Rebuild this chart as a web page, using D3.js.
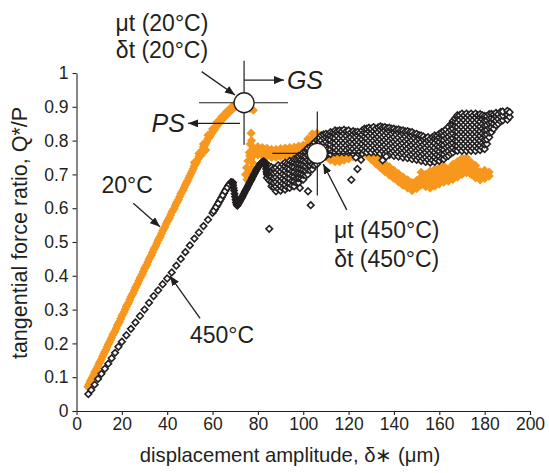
<!DOCTYPE html>
<html><head><meta charset="utf-8">
<script src="https://cdn.jsdelivr.net/npm/d3@7"></script>
<style>
body{margin:0;background:#fff}
text{font-family:"Liberation Sans",Arial,Helvetica,sans-serif;fill:#231f20}
</style>
</head><body>
<svg id="chart" width="549" height="473"></svg>
<script>
// ---------- data ----------
const xTicks = [0,20,40,60,80,100,120,140,160,180,200];
const yTicks = [0,0.1,0.2,0.3,0.4,0.5,0.6,0.7,0.8,0.9,1];

// 20°C series (orange, filled diamonds)
const orangeRise = [[5,0.072],[6,0.087],[7,0.099],[8,0.114],[9,0.126],[10,0.141],[11,0.153],[12,0.169],[13,0.181],[14,0.197],[15,0.21],[16,0.225],[17,0.237],[18,0.253],[19,0.265],[20,0.281],[21,0.293],[22,0.309],[23,0.321],[24,0.337],[25,0.349],[26,0.365],[27,0.377],[28,0.393],[29,0.405],[30,0.421],[31,0.433],[32,0.449],[33,0.461],[34,0.477],[35,0.489],[36,0.505],[37,0.517],[38,0.533],[39,0.545],[40,0.561],[41,0.572],[42,0.588],[43,0.599],[44,0.615],[45,0.626],[46,0.642],[47,0.654],[48,0.669],[49,0.681],[50,0.696],[51,0.709],[52,0.725],[53,0.737],[54,0.753],[55,0.765],[56,0.781],[57,0.791],[58,0.806],[59,0.814],[60,0.826],[61,0.834],[62,0.846],[63,0.852],[64,0.862],[65,0.867],[66,0.877],[67,0.881],[68,0.89],[69,0.894],[70,0.902],[71,0.904],[72,0.909],[73,0.91],
  [52,0.735],[54,0.762],[55,0.757],[56,0.79],[57,0.772],[58,0.816],[60,0.834],[62,0.855],[64,0.87],[66,0.884],[68,0.897],[70,0.909],[75,0.9],[76.5,0.895],[78,0.89]];
const orangeRiseHalf = [[5.5,0.079],[6.5,0.093],[7.5,0.106],[8.5,0.12],[9.5,0.133],[10.5,0.147],[11.5,0.161],[12.5,0.175],[13.5,0.189],[14.5,0.203],[15.5,0.217],[16.5,0.231],[17.5,0.245],[18.5,0.259],[19.5,0.273],[20.5,0.287],[21.5,0.301],[22.5,0.315],[23.5,0.329],[24.5,0.343],[25.5,0.357],[26.5,0.371],[27.5,0.385],[28.5,0.399],[29.5,0.413],[30.5,0.427],[31.5,0.441],[32.5,0.455],[33.5,0.469],[34.5,0.483],[35.5,0.497],[36.5,0.511],[37.5,0.525],[38.5,0.539],[39.5,0.553],[40.5,0.566],[41.5,0.58],[42.5,0.593],[43.5,0.607],[44.5,0.62],[45.5,0.634],[46.5,0.648],[47.5,0.661],[48.5,0.675],[49.5,0.689],[50.5,0.703],[51.5,0.717],[52.5,0.731],[53.5,0.745],[54.5,0.759],[55.5,0.772],[56.5,0.786],[57.5,0.798],[58.5,0.81],[59.5,0.82],[60.5,0.83],[61.5,0.84],[62.5,0.85],[63.5,0.857],[64.5,0.865],[65.5,0.872],[66.5,0.879],[67.5,0.886],[68.5,0.892],[69.5,0.898],[70.5,0.903],[71.5,0.907],[72.5,0.91]];
const orangeDrop = [[77,0.822],[77.2,0.8],[76.6,0.79],[76.2,0.765],[76.8,0.745],[75.6,0.74],[75,0.72],[75.8,0.705],[74.6,0.7],[75.2,0.685],[77.2,0.718],[77.6,0.735],[76.4,0.755]];
const orangeBand = [[78,0.755,0.767,0.779],[80,0.758,0.77,0.782],[82,0.755,0.767,0.779],[84,0.753,0.765,0.777],[86,0.75,0.762,0.774],[88,0.75,0.762,0.774],[90,0.752,0.764,0.776],[92,0.754,0.766,0.778],[94,0.755,0.767,0.779],[96,0.757,0.769,0.781],[98,0.76,0.772,0.784],[100,0.763,0.775,0.787],[102,0.767,0.779,0.791,0.805],[104,0.768,0.78,0.792,0.806,0.82],[106,0.768,0.78,0.792,0.806,0.822],[108,0.765,0.777,0.789,0.803,0.815],[110,0.752,0.764,0.776,0.79],[112,0.742,0.754,0.766],[114,0.738,0.75,0.762],[116,0.738,0.75,0.762],[118,0.742,0.754,0.766],[120,0.746,0.758,0.77],[122,0.752,0.764,0.776],[124,0.76,0.772,0.784,0.795],[126,0.765,0.777,0.789],[128,0.757,0.769,0.781],[130,0.744,0.756,0.768],[132,0.732,0.744,0.756],[134,0.72,0.732,0.744],[136,0.708,0.72,0.732],[138,0.698,0.71,0.722],[140,0.688,0.70,0.712],[142,0.678,0.69,0.702],[144,0.668,0.68,0.692],[146,0.66,0.672,0.684],[148,0.652,0.664,0.676],[150,0.658,0.67,0.682],[152,0.668,0.68,0.692,0.706],[154,0.664,0.676,0.688,0.70],[156,0.66,0.672,0.684,0.696,0.71],[158,0.665,0.677,0.689,0.701,0.715],[160,0.672,0.684,0.696,0.708,0.72],[162,0.677,0.689,0.701,0.713,0.725],[164,0.68,0.692,0.704,0.716],[166,0.685,0.697,0.709,0.721,0.73],[168,0.692,0.704,0.716,0.728,0.738],[170,0.70,0.712,0.724,0.736,0.748],[172,0.705,0.717,0.729,0.741,0.75],[174,0.70,0.712,0.724,0.736],[176,0.69,0.702,0.714,0.726],[178,0.684,0.696,0.708],[180,0.688,0.70,0.712],[182,0.695,0.707]];

// 450°C series (open black diamonds)
const blackRise = [[5.2,0.05],[6.5,0.062],[8,0.078],[9.5,0.095],[11,0.11],[12.5,0.125],[14,0.14],[15.5,0.156],[17,0.172],[18.5,0.19],[20,0.205],[22,0.224],[24,0.243],[26,0.262],[28,0.281],[30,0.30],[32,0.32],[34,0.34],[36,0.357],[38,0.375],[40,0.392],[42,0.41],[44,0.43],[46,0.45],[48,0.47],[50,0.49],[52,0.51],[54,0.528],[56,0.547],[58,0.566],[60,0.586],[61,0.597],[62,0.608],[63,0.62],[64,0.632],[65,0.644],[66,0.656],[67,0.667],[68,0.675],[69,0.676],
  [60.5,0.592],[61.5,0.603],[62.5,0.614],[63.5,0.626],[64.5,0.638],[65.5,0.65],[66.5,0.661],[67.5,0.671],[68.2,0.677]];
// dense stretch that prints as a solid black stroke
const blackKink = [[68.5,0.676],[68.8,0.674],[69.1,0.668],[69.3,0.66],[69.5,0.652],[69.7,0.643],[69.9,0.634],[70.1,0.625],[70.3,0.617],[70.6,0.61],[70.9,0.607],[71.2,0.61],[71.5,0.614],[71.8,0.618],[72.1,0.621],[72.4,0.625],[72.7,0.629],[73,0.632],[73.3,0.636],[73.6,0.64],[73.9,0.644],[74.2,0.648],[74.5,0.652],[74.8,0.655],[75.1,0.659],[75.4,0.663],[75.7,0.667],[76,0.671],[76.3,0.675],[76.6,0.678],[76.9,0.682],[77.2,0.686],[77.5,0.69],[77.8,0.694],[78.1,0.698],[78.4,0.702],[78.7,0.705],[79,0.709],[79.3,0.713],[79.6,0.716],[79.9,0.72],[80.2,0.723],[80.5,0.726],[80.8,0.729],[81.1,0.731],[81.4,0.733],[81.7,0.735],[82,0.737],[82.3,0.738],[82.6,0.739],[82.9,0.737],[83.2,0.731],[83.4,0.724],[83.6,0.716],[83.8,0.708],[84,0.70]];
const blackCloud = [
 [84,0.69,0.704,0.718,0.73],[85,0.682,0.696,0.71,0.724],[86,0.665,0.679,0.693,0.707,0.721],[87,0.662,0.676,0.69,0.704,0.718],
 [88,0.65,0.664,0.678,0.692,0.706,0.72],[89,0.657,0.671,0.685,0.699,0.713,0.727],[90,0.652,0.666,0.68,0.694,0.708,0.722],[91,0.659,0.673,0.687,0.701,0.715,0.729],
 [92,0.655,0.669,0.683,0.697,0.711,0.725,0.735],[93,0.662,0.676,0.69,0.704,0.718,0.732],[94,0.66,0.674,0.688,0.702,0.716,0.73,0.74],[95,0.667,0.681,0.695,0.709,0.723,0.737],
 [96,0.665,0.679,0.693,0.707,0.721,0.735,0.745],[97,0.675,0.689,0.703,0.717,0.731,0.745],[98,0.675,0.689,0.703,0.717,0.731,0.745,0.755],[99,0.687,0.701,0.715,0.729,0.743,0.757],
 [100,0.685,0.699,0.713,0.727,0.741,0.755,0.765],[101,0.697,0.711,0.725,0.739,0.753,0.767],[102,0.70,0.714,0.728,0.742,0.756,0.77,0.778],[103,0.712,0.726,0.74,0.754,0.768,0.782],
 [104,0.715,0.729,0.743,0.757,0.771,0.785],[105,0.727,0.741,0.755,0.769,0.783,0.795],[106,0.73,0.744,0.758,0.772,0.786,0.80],[107,0.742,0.756,0.77,0.784,0.798,0.808],
 [108,0.745,0.759,0.773,0.787,0.801,0.815],[109,0.752,0.766,0.78,0.794,0.808,0.818],[110,0.755,0.769,0.783,0.797,0.811,0.82],[111,0.762,0.776,0.79,0.804,0.818],
 [112,0.76,0.774,0.788,0.802,0.816,0.825],[113,0.767,0.781,0.795,0.809,0.823],[114,0.765,0.779,0.793,0.807,0.821,0.83],[115,0.772,0.786,0.80,0.814,0.828],
 [116,0.765,0.779,0.793,0.807,0.821,0.83],[117,0.772,0.786,0.80,0.814,0.828],[118,0.765,0.779,0.793,0.807,0.821,0.832],[119,0.772,0.786,0.80,0.814,0.828],
 [120,0.765,0.779,0.793,0.807,0.821,0.83],[121,0.768,0.782,0.796,0.81,0.824],[122,0.762,0.776,0.79,0.804,0.818,0.828],[123,0.769,0.783,0.797,0.811,0.825],
 [124,0.76,0.774,0.788,0.802,0.816,0.826],[125,0.767,0.781,0.795,0.809,0.823],[126,0.762,0.776,0.79,0.804,0.818,0.83],[127,0.769,0.783,0.797,0.811,0.825,0.835],
 [128,0.765,0.779,0.793,0.807,0.821,0.835],[129,0.772,0.786,0.80,0.814,0.828,0.838],[130,0.765,0.779,0.793,0.807,0.821,0.835],[131,0.772,0.786,0.80,0.814,0.828,0.84],
 [132,0.765,0.779,0.793,0.807,0.821,0.835],[133,0.769,0.783,0.797,0.811,0.825,0.839],[134,0.762,0.776,0.79,0.804,0.818,0.832,0.842],[135,0.769,0.783,0.797,0.811,0.825,0.839],
 [136,0.76,0.774,0.788,0.802,0.816,0.83,0.84],[137,0.767,0.781,0.795,0.809,0.823,0.837],[138,0.758,0.772,0.786,0.80,0.814,0.828,0.838],[139,0.765,0.779,0.793,0.807,0.821,0.835],
 [140,0.755,0.769,0.783,0.797,0.811,0.825,0.835],[141,0.762,0.776,0.79,0.804,0.818,0.832],[142,0.753,0.767,0.781,0.795,0.809,0.823,0.833],[143,0.76,0.774,0.788,0.802,0.816,0.83],
 [144,0.75,0.764,0.778,0.792,0.806,0.82,0.83],[145,0.757,0.771,0.785,0.799,0.813,0.827],[146,0.748,0.762,0.776,0.79,0.804,0.818,0.828],[147,0.755,0.769,0.783,0.797,0.811,0.825],
 [148,0.745,0.759,0.773,0.787,0.801,0.815,0.825],[149,0.752,0.766,0.78,0.794,0.808,0.82],[150,0.743,0.757,0.771,0.785,0.799,0.813,0.82],[151,0.75,0.764,0.778,0.792,0.806,0.816],
 [152,0.74,0.754,0.768,0.782,0.796,0.81,0.815],[153,0.747,0.761,0.775,0.789,0.803,0.812],[154,0.737,0.751,0.765,0.779,0.793,0.807],[155,0.744,0.758,0.772,0.786,0.80,0.81],
 [156,0.735,0.749,0.763,0.777,0.791,0.805],[157,0.742,0.756,0.77,0.784,0.798,0.81],[158,0.737,0.751,0.765,0.779,0.793,0.807,0.815],[159,0.744,0.758,0.772,0.786,0.80,0.814],
 [160,0.74,0.754,0.768,0.782,0.796,0.81,0.82],[161,0.747,0.761,0.775,0.789,0.803,0.817,0.825],[162,0.745,0.759,0.773,0.787,0.801,0.815,0.828],[163,0.752,0.766,0.78,0.794,0.808,0.822,0.833],
 [164,0.755,0.769,0.783,0.797,0.811,0.825,0.84],[165,0.762,0.776,0.79,0.804,0.818,0.832,0.848],[166,0.765,0.779,0.793,0.807,0.821,0.835,0.849,0.858],[167,0.772,0.786,0.80,0.814,0.828,0.842,0.856,0.866],
 [168,0.77,0.784,0.798,0.812,0.826,0.84,0.854,0.868,0.875],[169,0.777,0.791,0.805,0.819,0.833,0.847,0.861,0.875],[170,0.77,0.784,0.798,0.812,0.826,0.84,0.854,0.868,0.88],[171,0.777,0.791,0.805,0.819,0.833,0.847,0.861,0.875],
 [172,0.77,0.784,0.798,0.812,0.826,0.84,0.854,0.868,0.88],[173,0.777,0.791,0.805,0.819,0.833,0.847,0.861,0.875],[174,0.77,0.784,0.798,0.812,0.826,0.84,0.854,0.868,0.88],[175,0.777,0.791,0.805,0.819,0.833,0.847,0.861,0.875],
 [176,0.77,0.784,0.798,0.812,0.826,0.84,0.854,0.868,0.88],[177,0.777,0.791,0.805,0.819,0.833,0.847,0.861,0.875],[178,0.772,0.786,0.80,0.814,0.828,0.842,0.856,0.87,0.878],[179,0.779,0.793,0.807,0.821,0.835,0.849,0.863,0.875],
 [180,0.775,0.789,0.803,0.817,0.831,0.845,0.859,0.873],[181,0.79,0.804,0.818,0.832,0.846,0.86,0.872],[182,0.81,0.824,0.838,0.852,0.866,0.878],[183,0.825,0.839,0.853,0.867,0.879],
 [184,0.835,0.849,0.863,0.877],[185,0.845,0.859,0.873,0.882],[186,0.85,0.864,0.878],[187,0.857,0.871,0.885],[188,0.86,0.874,0.886],[190,0.862,0.876,0.888],[191,0.87,0.884]];
const blackOutliers = [[85,0.539],[98.5,0.66],[102.1,0.65],[103.3,0.609],[121.2,0.684],[123.9,0.716],[123.2,0.75],[125.5,0.743],[135,0.742],[136.6,0.753]];

// annotation points (data units)
const peak20 = [73.9, 0.912];
const peak450 = [106.2, 0.762];

// ---------- drawing ----------
const svg = d3.select("#chart");
const x = d3.scaleLinear().domain([0,200]).range([76.5,530]);
const y = d3.scaleLinear().domain([0,1]).range([411,73]);
const ink = "#231f20", orange = "#f7971d";

const diamond = r => `M0,${-r}L${r},0L0,${r}L${-r},0Z`;
const flat = rows => rows.flatMap(r => r.slice(1).map(v => [r[0], v]));

// axes
const gx = svg.append("g").attr("transform", `translate(0,${y(0)})`)
  .call(d3.axisBottom(x).tickValues(xTicks).tickFormat(d3.format("d")).tickSize(4).tickSizeOuter(0).tickPadding(3));
const gy = svg.append("g").attr("transform", `translate(${x(0)},0)`)
  .call(d3.axisLeft(y).tickValues(yTicks).tickFormat(d => d === 0 || d === 1 ? String(d) : d3.format(".1f")(d)).tickSize(4).tickSizeOuter(0).tickPadding(4));
[gx, gy].forEach(g => {
  g.selectAll("path,line").attr("stroke", ink).attr("stroke-width", 1.1);
  g.selectAll("text").attr("font-size", 17.5).attr("fill", ink).attr("font-family", '"Liberation Sans",Arial,sans-serif');
});

// orange series
const orangePts = orangeRise.concat(orangeRiseHalf, orangeDrop, flat(orangeBand));
svg.append("g").selectAll("path").data(orangePts).join("path")
  .attr("d", diamond(4.6)).attr("fill", orange)
  .attr("transform", d => `translate(${x(d[0])},${y(d[1])})`);

// black series
const blackPts = blackRise.concat(flat(blackCloud), blackOutliers);
svg.append("g").selectAll("path").data(blackPts).join("path")
  .attr("d", diamond(3.3)).attr("fill", "#fff").attr("stroke", ink).attr("stroke-width", 1.6)
  .attr("transform", d => `translate(${x(d[0])},${y(d[1])})`);
svg.append("g").selectAll("path").data(blackKink).join("path")
  .attr("d", diamond(3.4)).attr("fill", ink).attr("stroke", ink).attr("stroke-width", 1.2)
  .attr("transform", d => `translate(${x(d[0])},${y(d[1])})`);

// arrow marker
svg.append("defs").append("marker").attr("id","ah").attr("viewBox","0 0 10 8")
  .attr("refX",10).attr("refY",4).attr("markerWidth",10).attr("markerHeight",8)
  .attr("markerUnits","userSpaceOnUse").attr("orient","auto")
  .append("path").attr("d","M0,0L10,4L0,8Z").attr("fill", ink);

// crosshairs and circles
function crosshair(p){
  const cx = x(p[0]), cy = y(p[1]);
  const g = svg.append("g").attr("stroke", ink).attr("stroke-width", 1.2);
  g.append("line").attr("x1", cx-45).attr("x2", cx+44).attr("y1", cy).attr("y2", cy);
  g.append("line").attr("x1", cx).attr("x2", cx).attr("y1", cy-42).attr("y2", cy+42);
  svg.append("circle").attr("cx", cx).attr("cy", cy).attr("r", 10)
    .attr("fill", "#fff").attr("stroke", ink).attr("stroke-width", 1.3);
}
crosshair(peak20);
crosshair(peak450);

function arrow(a, b){
  svg.append("line").attr("x1", x(a[0])).attr("y1", y(a[1])).attr("x2", x(b[0])).attr("y2", y(b[1]))
    .attr("stroke", ink).attr("stroke-width", 1.3).attr("marker-end", "url(#ah)");
}
arrow([25.05,0.6145],[36.8,0.545]);      // 20°C
arrow([54.5,0.274],[41.2,0.40]);         // 450°C
arrow([55.2,1.004],[69.9,0.935]);        // μt 20°C
arrow([119.2,0.595],[108.8,0.731]);      // μt 450°C
arrow([73.9,0.979],[91.5,0.979]);        // GS
arrow([72.1,0.851],[49.2,0.851]);        // PS

function label(t, px, py, anchor, size, style){
  svg.append("text").attr("x", x(px)).attr("y", y(py)).attr("text-anchor", anchor || "start")
    .attr("font-size", size || 23).attr("font-style", style || "normal").text(t);
}
label("20°C", 11.0, 0.645);
label("450°C", 50.05, 0.201);
label("μt (20°C)", 37.7, 1.124, "middle");
label("δt (20°C)", 37.7, 1.044, "middle");
label("μt (450°C)", 136.8, 0.512, "middle");
label("δt (450°C)", 136.8, 0.426, "middle");
label("GS", 92.8, 0.952, "start", 25, "italic");
label("PS", 47.8, 0.826, "end", 25, "italic");

// axis titles
svg.append("text").attr("x", 290).attr("y", 462).attr("text-anchor","middle")
  .attr("font-size", 20.3).text("displacement amplitude, δ∗ (μm)");
svg.append("text").attr("transform","translate(27,233) rotate(-90)").attr("text-anchor","middle")
  .attr("font-size", 21.5).text("tangential force ratio, Q*/P");
</script>
</body></html>
